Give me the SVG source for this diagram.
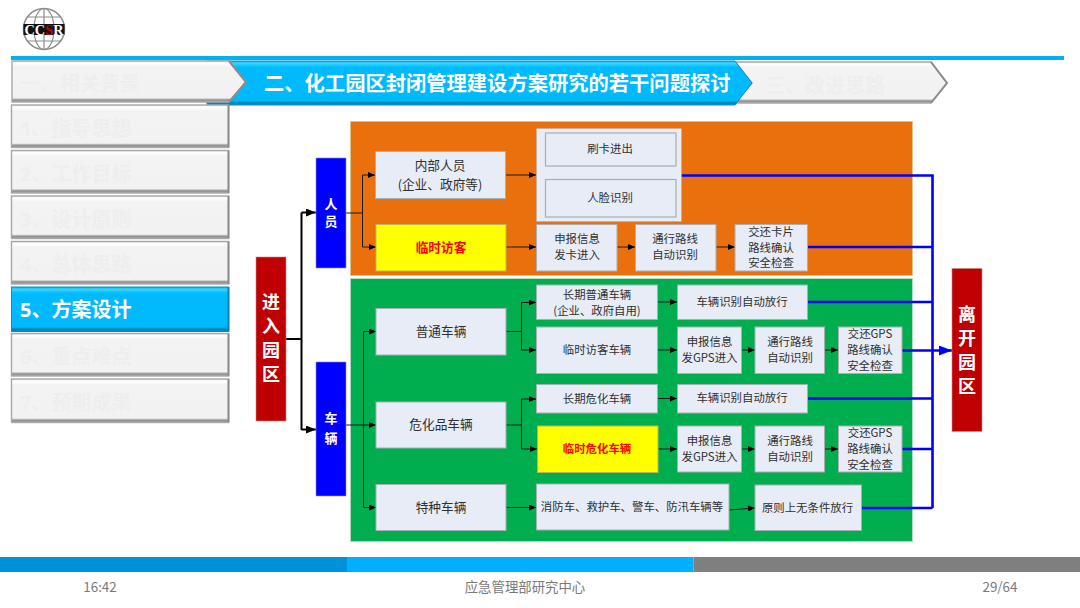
<svg xmlns="http://www.w3.org/2000/svg" width="1080" height="608" viewBox="0 0 1080 608">
<style>
text{font-family:"Noto Sans CJK SC","Noto Sans",sans-serif;text-anchor:middle}
.n{font-size:11.4px;fill:#303030}
.m{font-size:12.7px;fill:#303030}
.b{fill:#e7ecf6;stroke:#a9aeb4;stroke-width:1}
.y{fill:#ffff00;stroke:#b8b85a;stroke-width:1}
.r{font-weight:700;fill:#ff0000}
.blue{fill:#0000ff;stroke:#8a8ad8;stroke-width:.6}
.red{fill:#c00000;stroke:#c08a8a;stroke-width:.6}
.w{fill:#fff;font-weight:700}
.t{font-size:20px;font-weight:700;fill:#eeeeee;text-anchor:start;font-family:"Open Sans","Noto Sans CJK SC",sans-serif}
.g{fill:url(#bevel);stroke:#a8a8a8;stroke-width:1.4}
.a{fill:url(#bevelA);stroke:#0a8fc0;stroke-width:1}
.e{fill:none;stroke:#8c8c8c;stroke-width:2}
.ea{fill:none;stroke:#0a7fae;stroke-width:2}
.c{fill:none;stroke:#1a1a1a;stroke-width:1;marker-end:url(#ar)}
.l{fill:none;stroke:#1a1a1a;stroke-width:1}
.k{fill:none;stroke:#000;stroke-width:2}
.h{fill:none;stroke:#0000ff;stroke-width:2.6}
.f{font-size:13.4px;fill:#7a7a7a}
</style>
<defs>
<linearGradient id="bevel" x1="0" y1="0" x2="0" y2="1">
<stop offset="0" stop-color="#e4e4e4"/><stop offset=".05" stop-color="#fff"/><stop offset=".14" stop-color="#f4f3f4"/><stop offset=".9" stop-color="#f3f2f3"/><stop offset=".95" stop-color="#8f8f8f"/><stop offset="1" stop-color="#a8a8a8"/>
</linearGradient>
<linearGradient id="bevelA" x1="0" y1="0" x2="0" y2="1">
<stop offset="0" stop-color="#14a8d8"/><stop offset=".05" stop-color="#38d8ff"/><stop offset=".14" stop-color="#00baff"/><stop offset=".9" stop-color="#00b9fd"/><stop offset=".95" stop-color="#0083b4"/><stop offset="1" stop-color="#0a8fc0"/>
</linearGradient>
<marker id="ar" markerUnits="userSpaceOnUse" markerWidth="7" markerHeight="6" refX="7" refY="3" orient="auto"><path d="M0 0L7 3L0 6z" fill="#000"/></marker>
<marker id="ak" markerUnits="userSpaceOnUse" markerWidth="10" markerHeight="8" refX="10" refY="4" orient="auto"><path d="M0 0L10 4L0 8z" fill="#000"/></marker>
<marker id="ab" markerUnits="userSpaceOnUse" markerWidth="13" markerHeight="10" refX="13" refY="5" orient="auto"><path d="M0 0L13 5L0 10z" fill="#0000ff"/></marker>
</defs>
<rect width="1080" height="608" fill="#fff"/>
<g id="logo">
<circle cx="44" cy="29" r="20.5" fill="#fff" stroke="#8c8c8c" stroke-width="1.6"/>
<ellipse cx="44" cy="29" rx="10" ry="20.5" fill="none" stroke="#8c8c8c" stroke-width="1.2"/>
<path d="M44 8.500V49.500M27 17H61M27 41H61" stroke="#8c8c8c" stroke-width="1.2" fill="none"/>
<rect x="23.500" y="24" width="41" height="11" fill="#111"/>
<text x="44" y="34.500" textLength="39" lengthAdjust="spacingAndGlyphs" style="font-family:'Liberation Serif',serif;font-size:14px;font-weight:700" fill="#fff">CC<tspan fill="#c00000">S</tspan>R</text>
</g>
<rect id="top-rule" x="11" y="56" width="1053" height="4" fill="#00b0f0"/>
<g id="tab-3"><polygon class="g" points="735,62 931,62 947,83 931,103 735,103 752,83"/><path class="e" d="M931 62L947 83L931 103"/><text class="t" x="765" y="92.500">三、改进思路</text></g>
<g id="tab-2"><polygon class="a" points="207,61 735,61 752,83 735,105 207,105"/><text class="t" x="264" y="91" style="fill:#fff;font-size:20.3px">二、化工园区封闭管理建设方案研究的若干问题探讨</text></g>
<g id="tab-1"><polygon class="g" points="12,61 229,61 246,82 229,102 12,102"/><path class="e" d="M229 61L246 82L229 102"/><text class="t" x="20" y="91">一、相关背景</text></g>
<g id="side-1"><rect class="g" x="11.500" y="105" width="217" height="42.500"/><path class="e" d="M228.500 105V147.500"/><text class="t" x="20" y="135.500">1、指导思想</text></g>
<g id="side-2"><rect class="g" x="11.500" y="150.500" width="217" height="42.500"/><path class="e" d="M228.500 150.500V193"/><text class="t" x="20" y="181">2、工作目标</text></g>
<g id="side-3"><rect class="g" x="11.500" y="196" width="217" height="42.500"/><path class="e" d="M228.500 196V238.500"/><text class="t" x="20" y="226.500">3、设计原则</text></g>
<g id="side-4"><rect class="g" x="11.500" y="241.500" width="217" height="42.500"/><path class="e" d="M228.500 241.500V284"/><text class="t" x="20" y="272">4、总体思路</text></g>
<g id="side-5"><rect class="a" x="11.500" y="287" width="217" height="44.500"/><path class="ea" d="M228.500 287V331.500"/><text class="t" x="20" y="317" style="fill:#fff">5、方案设计</text></g>
<g id="side-6"><rect class="g" x="11.500" y="333.500" width="217" height="42.500"/><path class="e" d="M228.500 333.500V376"/><text class="t" x="20" y="363.500">6、重点难点</text></g>
<g id="side-7"><rect class="g" x="11.500" y="379" width="217" height="43.500"/><path class="e" d="M228.500 379V422.500"/><text class="t" x="20" y="409.500">7、预期成果</text></g>

<rect id="orange-panel" x="350.500" y="121.500" width="562" height="154" fill="#e9700d" stroke="#d8c68a" stroke-width=".8"/>
<rect id="green-panel" x="350.500" y="278.500" width="562" height="263" fill="#00ae50" stroke="#b8dcc0" stroke-width=".8"/>

<g id="connectors">
<path class="l" d="M346 213H362.500M362.500 175V247"/>
<path class="c" d="M362.500 175H375"/><path class="c" d="M362.500 247H376"/>
<path class="c" d="M505 175H536"/><path class="c" d="M506 247H536"/><path class="c" d="M617 247H635"/><path class="c" d="M716 247H735"/>
<path class="k" d="M286 339H301.500M301.500 212.500V430"/>
<path class="k" d="M301.500 212.500H316" marker-end="url(#ak)"/><path class="k" d="M301.500 429.500H316" marker-end="url(#ak)"/>
<path class="l" d="M346 425H363.500M363.500 331.500V507.500"/>
<path class="c" d="M363.500 331.500H376"/><path class="c" d="M363.500 425H376"/><path class="c" d="M363.500 507.500H376"/>
<path class="l" d="M506 331.500H521.500M521.500 302.500V350M506 425H521.500M521.500 399V449"/>
<path class="c" d="M521.500 302.500H536"/><path class="c" d="M521.500 350H536"/><path class="c" d="M521.500 399H536"/><path class="c" d="M521.500 449H537"/>
<path class="c" d="M506 507.500H536"/>
<path class="c" d="M657 302H677"/><path class="c" d="M657 350H677"/><path class="c" d="M741 350H755"/><path class="c" d="M824 350H838"/>
<path class="c" d="M657 398.500H677"/><path class="c" d="M658 449H677"/><path class="c" d="M741 449H755"/><path class="c" d="M824 449H838"/>
<path class="c" d="M729 510L755 508"/>
<path class="h" d="M681 175.500H932.500V508M807 247H932.500M807 302H932.500M807 398.500H932.500M902 449H932.500M861.500 508H932.500"/>
<path class="h" d="M902 350.500H952" marker-end="url(#ab)"/>
</g>

<g id="enter"><rect class="red" x="256" y="257" width="30" height="164"/><text class="w" style="font-size:18px" x="271" y="309">进</text><text class="w" style="font-size:18px" x="271" y="333">入</text><text class="w" style="font-size:18px" x="271" y="357">园</text><text class="w" style="font-size:18px" x="271" y="381">区</text></g>
<g id="exit"><rect class="red" x="952" y="268.500" width="30" height="163"/><text class="w" style="font-size:18px" x="967" y="321">离</text><text class="w" style="font-size:18px" x="967" y="345">开</text><text class="w" style="font-size:18px" x="967" y="369">园</text><text class="w" style="font-size:18px" x="967" y="393">区</text></g>
<g id="people"><rect class="blue" x="316" y="158" width="30" height="110"/><text class="w" style="font-size:13px" x="331" y="209">人</text><text class="w" style="font-size:13px" x="331" y="226">员</text></g>
<g id="vehicles"><rect class="blue" x="316" y="362" width="30" height="134"/><text class="w" style="font-size:13px" x="331" y="423">车</text><text class="w" style="font-size:13px" x="331" y="443">辆</text></g>

<g id="internal"><rect class="b" x="375.500" y="151.500" width="130" height="47"/><text class="m" x="440" y="170">内部人员</text><text class="m" x="440" y="189">(企业、政府等)</text></g>
<g id="access"><rect class="b" x="536.500" y="128.500" width="145" height="93" stroke-dasharray="1 1"/><rect class="b" x="545.500" y="133" width="130.500" height="33" style="stroke-width:1.2"/><text class="n" x="610" y="153">刷卡进出</text><rect class="b" x="545.500" y="179.500" width="130.500" height="37.500" style="stroke-width:1.2"/><text class="n" x="610" y="202">人脸识别</text></g>
<g id="visitor"><rect class="y" x="376" y="224.500" width="130" height="46.500"/><text class="m r" x="441" y="252">临时访客</text></g>
<g id="p-apply"><rect class="b" x="536.500" y="224.500" width="80.500" height="46.500"/><text class="n" x="577" y="243">申报信息</text><text class="n" x="577" y="259">发卡进入</text></g>
<g id="p-route"><rect class="b" x="635.500" y="224.500" width="80.500" height="46.500"/><text class="n" x="675" y="243">通行路线</text><text class="n" x="675" y="259">自动识别</text></g>
<g id="p-return"><rect class="b" x="735" y="224.500" width="72.500" height="46.500"/><text class="n" x="771" y="236">交还卡片</text><text class="n" x="771" y="252">路线确认</text><text class="n" x="771" y="267">安全检查</text></g>

<g id="ordinary"><rect class="b" x="376" y="308.500" width="130" height="46.500"/><text class="m" x="441" y="336">普通车辆</text></g>
<g id="hazmat"><rect class="b" x="376" y="402" width="130" height="46"/><text class="m" x="441" y="429">危化品车辆</text></g>
<g id="special"><rect class="b" x="376" y="484.500" width="130" height="46"/><text class="m" x="441" y="512">特种车辆</text></g>

<g id="o-long"><rect class="b" x="536.500" y="285" width="121" height="34.500"/><text class="n" x="597" y="299">长期普通车辆</text><text class="n" x="597" y="315">(企业、政府自用)</text></g>
<g id="o-visitor"><rect class="b" x="536.500" y="327" width="121" height="46.500"/><text class="n" x="597" y="354">临时访客车辆</text></g>
<g id="h-long"><rect class="b" x="536.500" y="384.500" width="121" height="28.500"/><text class="n" x="597" y="403">长期危化车辆</text></g>
<g id="h-visitor"><rect class="y" x="537.500" y="426" width="120.500" height="46.500"/><text class="n r" x="597" y="453">临时危化车辆</text></g>
<g id="s-list"><rect class="b" x="536.500" y="484" width="192.500" height="46"/><text class="n" x="632" y="511">消防车、救护车、警车、防汛车辆等</text></g>

<g id="o-auto"><rect class="b" x="677.500" y="285" width="130" height="34.500"/><text class="n" x="742" y="306">车辆识别自动放行</text></g>
<g id="o-apply"><rect class="b" x="677.500" y="327" width="64" height="46.500"/><text class="n" x="709.500" y="346">申报信息</text><text class="n" x="709.500" y="362">发GPS进入</text></g>
<g id="o-route"><rect class="b" x="755" y="327" width="69.500" height="46.500"/><text class="n" x="790" y="346">通行路线</text><text class="n" x="790" y="362">自动识别</text></g>
<g id="o-return"><rect class="b" x="838.500" y="327" width="63.500" height="46.500"/><text class="n" x="870" y="338">交还GPS</text><text class="n" x="870" y="354">路线确认</text><text class="n" x="870" y="370">安全检查</text></g>
<g id="h-auto"><rect class="b" x="677.500" y="384.500" width="130" height="28.500"/><text class="n" x="742" y="402">车辆识别自动放行</text></g>
<g id="h-apply"><rect class="b" x="677.500" y="426" width="64" height="46"/><text class="n" x="709.500" y="445">申报信息</text><text class="n" x="709.500" y="461">发GPS进入</text></g>
<g id="h-route"><rect class="b" x="755" y="426" width="69.500" height="46"/><text class="n" x="790" y="445">通行路线</text><text class="n" x="790" y="461">自动识别</text></g>
<g id="h-return"><rect class="b" x="838.500" y="426" width="63.500" height="46"/><text class="n" x="870" y="437">交还GPS</text><text class="n" x="870" y="453">路线确认</text><text class="n" x="870" y="469">安全检查</text></g>
<g id="s-pass"><rect class="b" x="755" y="485" width="106.500" height="45.500"/><text class="n" x="807.500" y="512">原则上无条件放行</text></g>

<g id="footer">
<rect x="0" y="557" width="347" height="15" fill="#0092d8"/><rect x="347" y="557" width="346.500" height="15" fill="#00b0ff"/><rect x="693.500" y="557" width="386.500" height="15" fill="#7f7f7f"/>
<text class="f" x="100" y="592">16:42</text><text class="f" x="525" y="592">应急管理部研究中心</text><text class="f" x="1000" y="592">29/64</text>
</g>
</svg>
